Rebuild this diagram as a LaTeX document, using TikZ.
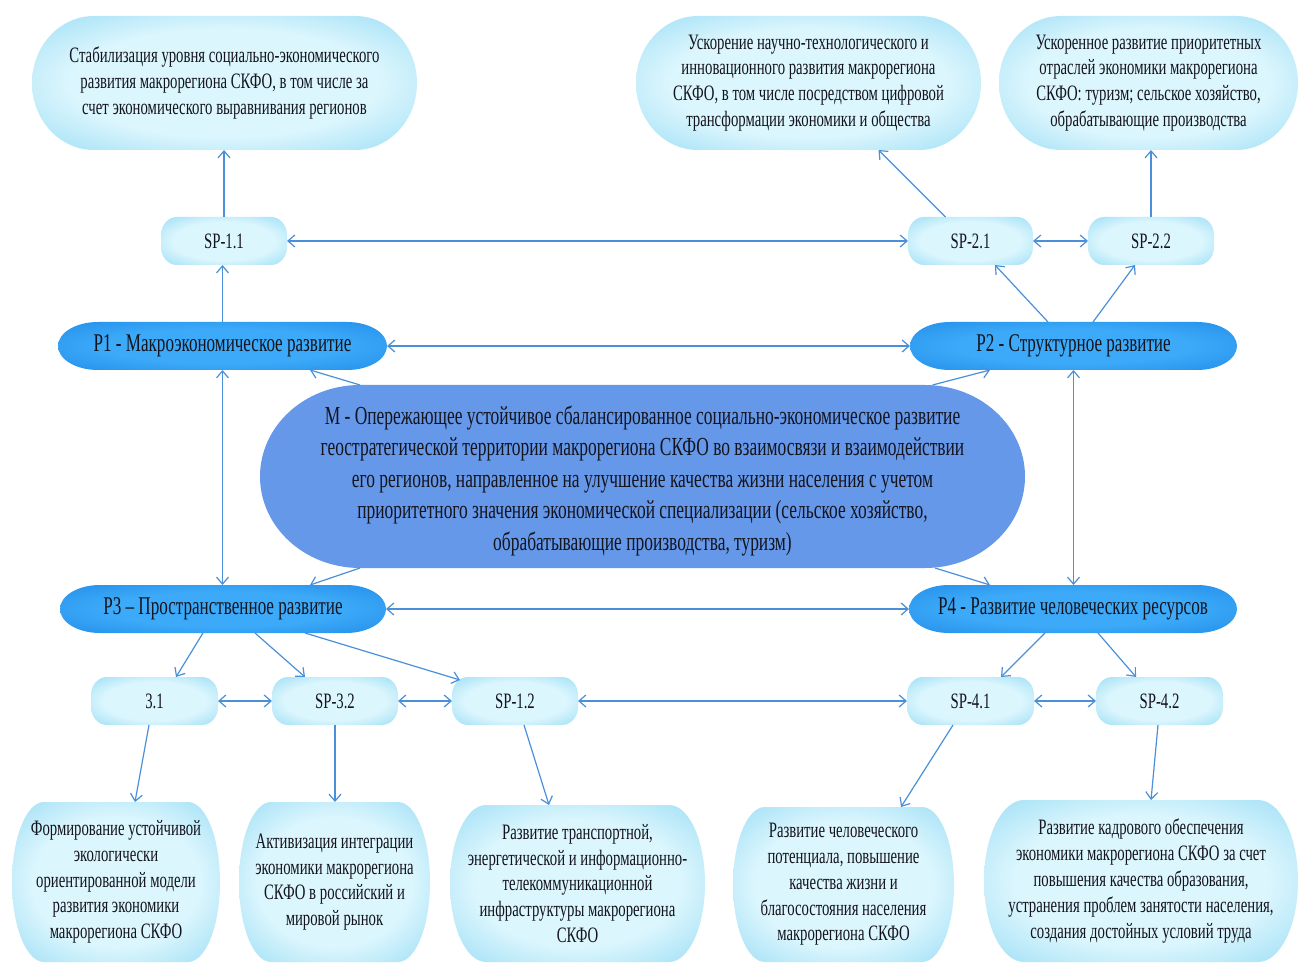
\documentclass[tikz,border=0pt]{standalone}
\usepackage{fontspec}
\setmainfont{Liberation Serif}[FakeStretch=0.67]
\usetikzlibrary{arrows.meta}
\pgfdeclarelayer{bg}
\pgfsetlayers{bg,main}
\definecolor{arrowc}{RGB}{74,144,217}
\definecolor{bxin}{RGB}{220,246,253}
\definecolor{bxout}{RGB}{112,205,240}
\definecolor{pin}{RGB}{60,170,248}
\definecolor{pout}{RGB}{18,124,225}
\definecolor{mfill}{RGB}{102,152,234}
\definecolor{txt}{RGB}{20,20,30}
\pgfdeclareradialshading{boxglow}{\pgfpoint{0bp}{0bp}}{color(0bp)=(bxin); color(20bp)=(bxin); color(47bp)=(bxout); color(72bp)=(bxout)}
\pgfdeclareradialshading{pglow}{\pgfpoint{0bp}{0bp}}{color(0bp)=(pin); color(18bp)=(pin); color(48bp)=(pout); color(72bp)=(pout)}
\newcommand\capsule[4]{%
  \path[#4] ([xshift=#2]#1.north west) -- ([xshift=-#2]#1.north east)
    arc[start angle=90,end angle=0,x radius=#2,y radius=#3]
    -- ([yshift=#3]#1.south east)
    arc[start angle=0,end angle=-90,x radius=#2,y radius=#3]
    -- ([xshift=#2]#1.south west)
    arc[start angle=-90,end angle=-180,x radius=#2,y radius=#3]
    -- ([yshift=-#3]#1.north west)
    arc[start angle=180,end angle=90,x radius=#2,y radius=#3] -- cycle;}
\begin{document}
\begin{tikzpicture}[x=1pt,y=-1pt,
  base/.style={inner sep=0pt, outer sep=0pt, align=center, text=txt},
  lbox/.style={base, font=\fontsize{22}{25.8}\selectfont},
  spbox/.style={base, font=\fontsize{22}{24}\selectfont, minimum width=126pt, minimum height=48pt},
  pbox/.style={base, font=\fontsize{25.5}{28}\selectfont, minimum height=48pt},
  mbox/.style={base, font=\fontsize{26}{31.5}\selectfont},
  arr/.style={draw=arrowc, line width=1.2pt, -{Straight Barb[length=7pt,width=12pt]}},
  darr/.style={draw=arrowc, line width=1.2pt, {Straight Barb[length=7pt,width=12pt]}-{Straight Barb[length=7pt,width=12pt]}},
  lshade/.style={shade, shading=boxglow},
  pshade/.style={shade, shading=pglow},
]
\useasboundingbox (0,0) rectangle (1301,965);

% top goals
\node[lbox, minimum width=385pt, minimum height=134pt] (TL) at (224.5,83)
  {Стабилизация уровня социально-экономического\\развития макрорегиона СКФО, в том числе за\\счет экономического выравнивания регионов};
\node[lbox, minimum width=345pt, minimum height=134pt] (TM) at (808.5,83)
  {Ускорение научно-технологического и\\инновационного развития макрорегиона\\СКФО, в том числе посредством цифровой\\трансформации экономики и общества};
\node[lbox, minimum width=299pt, minimum height=134pt] (TR) at (1148.5,83)
  {Ускоренное развитие приоритетных\\отраслей экономики макрорегиона\\СКФО: туризм; сельское хозяйство,\\обрабатывающие производства};

% sub-programmes, upper row
\node[spbox] (SP11) at (224,241) {SP-1.1};
\node[spbox, minimum width=125pt] (SP21) at (970.5,241) {SP-2.1};
\node[spbox] (SP22) at (1151,241) {SP-2.2};

% programmes
\node[pbox, minimum width=329pt] (P1) at (222.5,346) {P1 - Макроэкономическое развитие};
\node[pbox, minimum width=327pt] (P2) at (1073.5,346) {P2 - Структурное развитие};
\node[pbox, minimum width=326pt] (P3) at (223,609) {P3 – Пространственное развитие};
\node[pbox, minimum width=328pt] (P4) at (1073,609) {P4 - Развитие человеческих ресурсов};

% mission
\node[base, minimum width=765pt, minimum height=183pt] (M) at (642.5,476.5) {};
\node[mbox] (Mtext) at ([yshift=-4pt]M.center)
  {М - Опережающее устойчивое сбалансированное социально-экономическое развитие\\геостратегической территории макрорегиона СКФО во взаимосвязи и взаимодействии\\его регионов, направленное на улучшение качества жизни населения с учетом\\приоритетного значения экономической специализации (сельское хозяйство,\\обрабатывающие производства, туризм)};

% sub-programmes, lower row
\node[spbox, minimum width=127pt] (T31) at (154.5,701) {3.1};
\node[spbox] (SP32) at (335,701) {SP-3.2};
\node[spbox] (SP12) at (515,701) {SP-1.2};
\node[spbox, minimum width=127pt] (SP41) at (970.5,701) {SP-4.1};
\node[spbox, minimum width=127pt] (SP42) at (1159.5,701) {SP-4.2};

% bottom goals
\node[lbox, minimum width=208pt, minimum height=160pt] (B1) at (116,882)
  {Формирование устойчивой\\экологически\\ориентированной модели\\развития экономики\\макрорегиона СКФО};
\node[lbox, minimum width=191pt, minimum height=160pt] (B2) at (334.5,882)
  {Активизация интеграции\\экономики макрорегиона\\СКФО в российский и\\мировой рынок};
\node[lbox, minimum width=255pt, minimum height=157pt] (B3) at (577.5,883.5)
  {Развитие транспортной,\\энергетической и информационно-\\телекоммуникационной\\инфраструктуры макрорегиона\\СКФО};
\node[lbox, minimum width=221pt, minimum height=155pt] (B4) at (843.5,884.5)
  {Развитие человеческого\\потенциала, повышение\\качества жизни и\\благосостояния населения\\макрорегиона СКФО};
\node[lbox, minimum width=314pt, minimum height=162pt] (B5) at (1141,881)
  {Развитие кадрового обеспечения\\экономики макрорегиона СКФО за счет\\повышения качества образования,\\устранения проблем занятости населения,\\создания достойных условий труда};

\begin{pgfonlayer}{bg}
  \fill[white] (0,0) rectangle (1301,965);
  \capsule{TL}{62pt}{67pt}{lshade}
  \capsule{TM}{62pt}{67pt}{lshade}
  \capsule{TR}{62pt}{67pt}{lshade}
  \capsule{SP11}{16pt}{18pt}{lshade}
  \capsule{SP21}{16pt}{18pt}{lshade}
  \capsule{SP22}{16pt}{18pt}{lshade}
  \capsule{T31}{16pt}{18pt}{lshade}
  \capsule{SP32}{16pt}{18pt}{lshade}
  \capsule{SP12}{16pt}{18pt}{lshade}
  \capsule{SP41}{16pt}{18pt}{lshade}
  \capsule{SP42}{16pt}{18pt}{lshade}
  \capsule{P1}{40pt}{24pt}{pshade}
  \capsule{P2}{40pt}{24pt}{pshade}
  \capsule{P3}{40pt}{24pt}{pshade}
  \capsule{P4}{40pt}{24pt}{pshade}
  \capsule{M}{100pt}{91.5pt}{fill=mfill}
  \capsule{B1}{32pt}{80pt}{lshade}
  \capsule{B2}{32pt}{80pt}{lshade}
  \capsule{B3}{36pt}{78.5pt}{lshade}
  \capsule{B4}{32pt}{77.5pt}{lshade}
  \capsule{B5}{40pt}{81pt}{lshade}
\end{pgfonlayer}

% connectors, upper part
\draw[arr] (SP11.north) -- (SP11.north |- TL.south);
\draw[darr] (SP11.east) -- (SP21.west);
\draw[arr] ([xshift=-25pt]SP21.north) -- ([xshift=70pt]TM.south);
\draw[darr] (SP21.east) -- (SP22.west);
\draw[arr] (SP22.north) -- (SP22.north |- TR.south);
\draw[arr] ([xshift=-25.5pt]P2.north) -- ([xshift=24.5pt]SP21.south);
\draw[arr] ([xshift=19.5pt]P2.north) -- ([xshift=-16pt]SP22.south);
\draw[arr] (P1.north) -- (P1.north |- SP11.south);
\draw[darr] (P1.east) -- (P2.west);
\draw[darr] (P1.south) -- (P1.south |- P3.north);
\draw[darr] (P2.south) -- (P2.south |- P4.north);

% mission to programmes
\draw[arr] ([xshift=-282.5pt]M.north) -- ([xshift=87.5pt]P1.south);
\draw[arr] ([xshift=290pt]M.north) -- ([xshift=-83.5pt]P2.south);
\draw[arr] ([xshift=-282.5pt]M.south) -- ([xshift=87pt]P3.north);
\draw[arr] ([xshift=292.5pt]M.south) -- ([xshift=-83pt]P4.north);

% lower part
\draw[darr] (P3.east) -- (P4.west);
\draw[arr] ([xshift=-20pt]P3.south) -- ([xshift=21.5pt]T31.north);
\draw[arr] ([xshift=32pt]P3.south) -- ([xshift=-30pt]SP32.north);
\draw[arr] ([xshift=82pt]P3.south) -- ([xshift=-55pt,yshift=-3pt]SP12.north);
\draw[darr] (T31.east) -- (SP32.west);
\draw[darr] (SP32.east) -- (SP12.west);
\draw[darr] (SP12.east) -- (SP41.west);
\draw[darr] (SP41.east) -- (SP42.west);
\draw[arr] ([xshift=-28pt]P4.south) -- ([xshift=30.5pt]SP41.north);
\draw[arr] ([xshift=25pt]P4.south) -- ([xshift=-23.5pt]SP42.north);
\draw[arr] ([xshift=-5.5pt]T31.south) -- ([xshift=19pt]B1.north);
\draw[arr] (SP32.south) -- (SP32.south |- B2.north);
\draw[arr] ([xshift=9pt]SP12.south) -- ([xshift=-28.5pt]B3.north);
\draw[arr] ([xshift=-17.5pt]SP41.south) -- ([xshift=57.5pt]B4.north);
\draw[arr] ([xshift=-1.5pt]SP42.south) -- ([xshift=10pt]B5.north);
\end{tikzpicture}
\end{document}
